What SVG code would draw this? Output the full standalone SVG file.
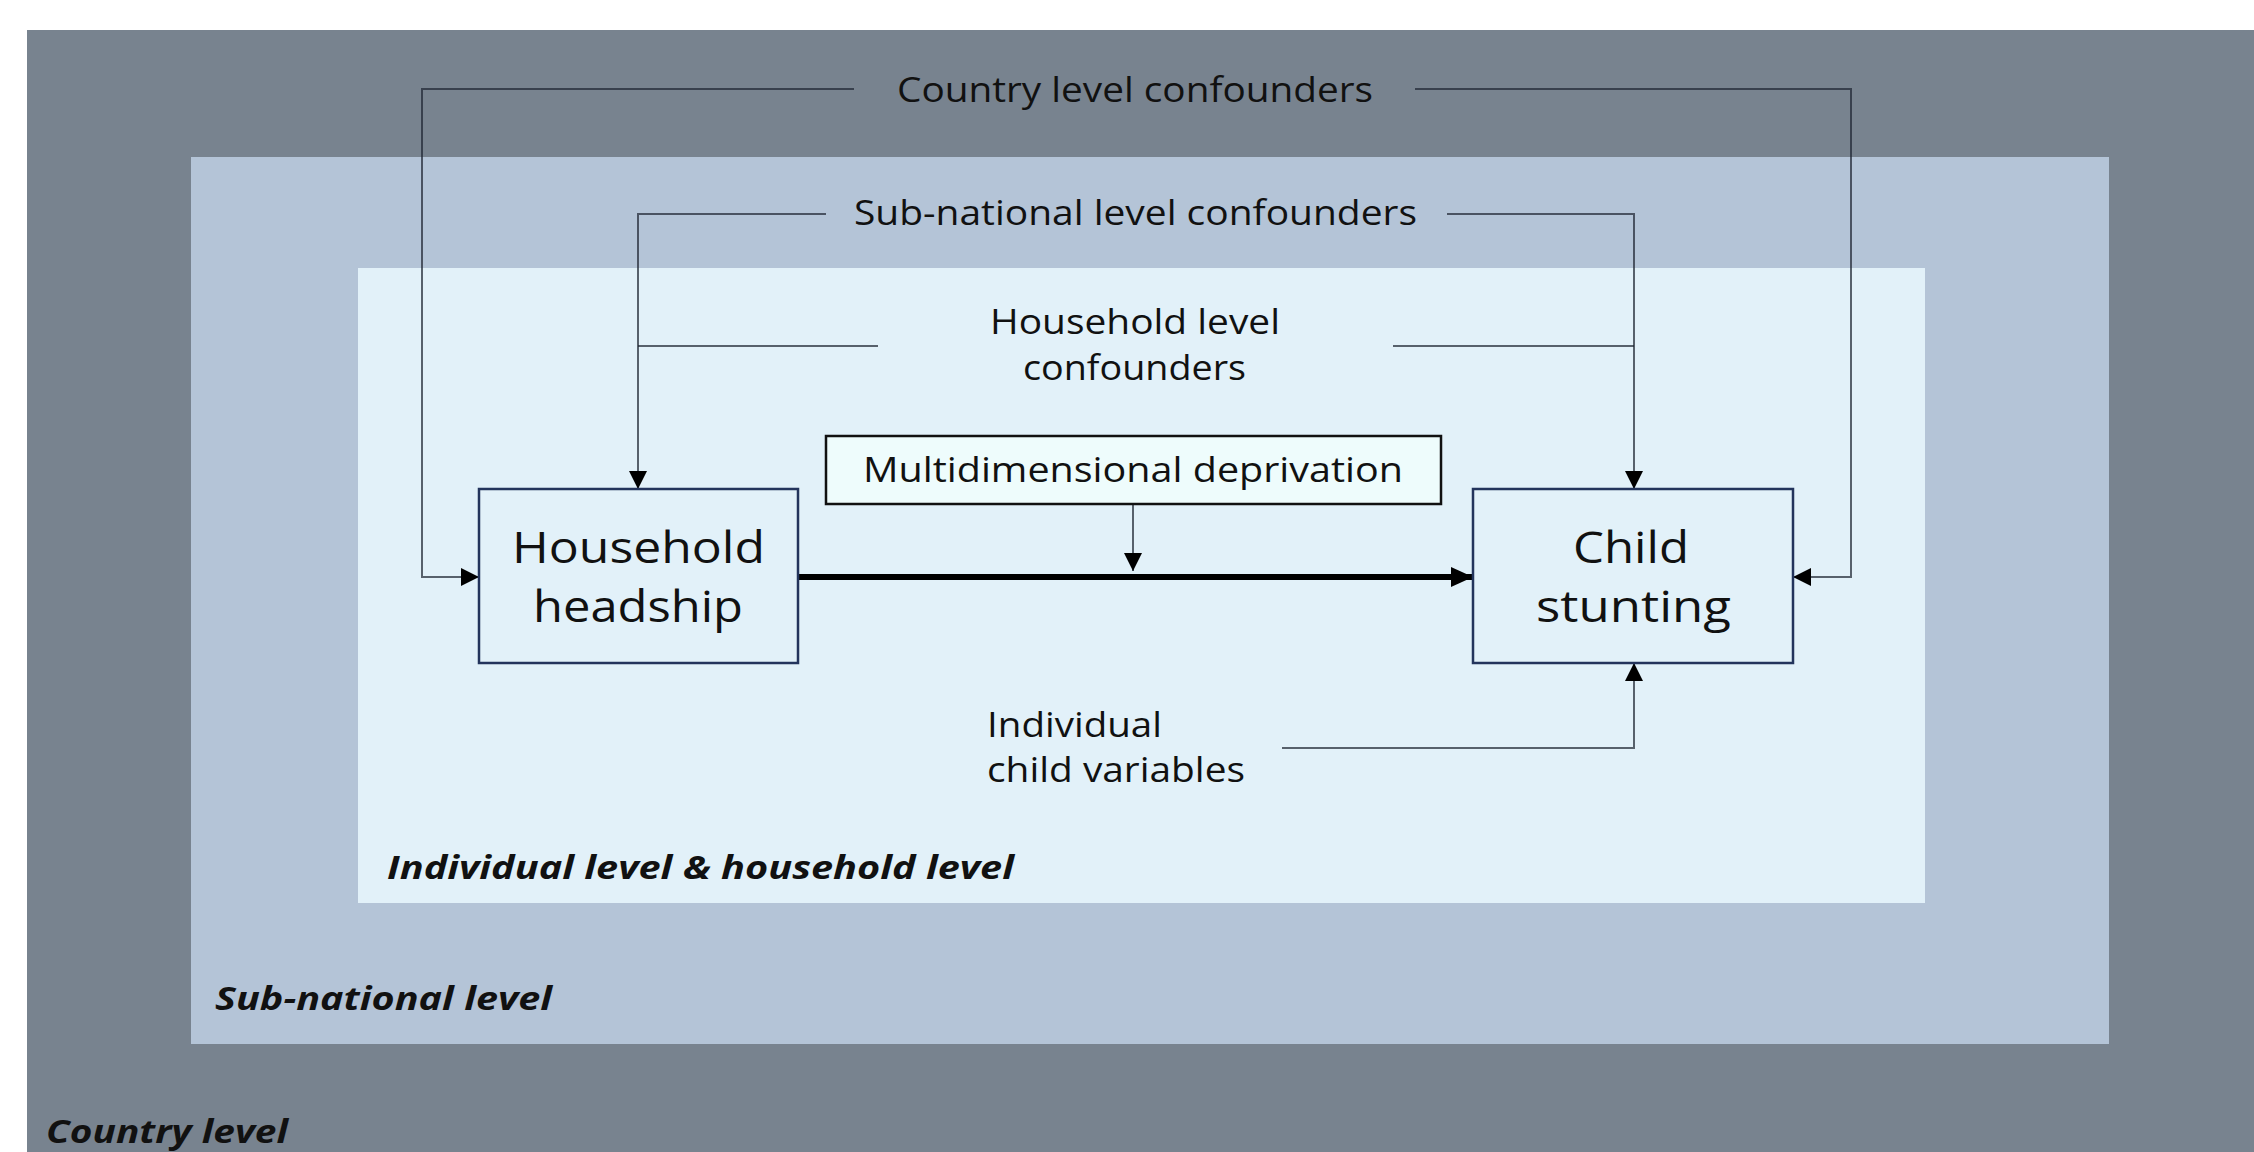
<svg xmlns="http://www.w3.org/2000/svg" width="2254" height="1152" viewBox="0 0 2254 1152">
<style>
.lbl{font-family:"Open Sans","Noto Sans","DejaVu Sans",sans-serif;fill:#111;}
.t34{font-size:34px;}
.t44{font-size:44px;}
.lvl{font-family:"Open Sans","Noto Sans","DejaVu Sans",sans-serif;font-size:33px;font-weight:bold;font-style:italic;fill:#111;}
.conn{fill:none;stroke:#1c2330;stroke-opacity:0.7;stroke-width:2;}
.node{fill:#e2f1f9;stroke:#23345c;stroke-width:2.5;}
</style>
<defs>
<marker id="ah" markerUnits="userSpaceOnUse" markerWidth="18" markerHeight="18" viewBox="0 0 18 18" refX="18" refY="9" orient="auto">
<path d="M0,0 L18,9 L0,18 Z" fill="#000"/>
</marker>
<marker id="ahb" markerUnits="userSpaceOnUse" markerWidth="22" markerHeight="22" viewBox="0 0 22 22" refX="22" refY="11" orient="auto">
<path d="M0,1 L22,11 L0,21 Z" fill="#000"/>
</marker>
</defs>
<rect x="0" y="0" width="2254" height="1152" fill="#ffffff"/>
<g id="country-level">
<rect x="27" y="30" width="2227" height="1122" fill="#78838f"/>
<text class="lvl" x="46" y="1143" textLength="242" lengthAdjust="spacingAndGlyphs">Country level</text>
</g>
<g id="subnational-level">
<rect x="191" y="157" width="1918" height="887" fill="#b4c4d7"/>
<text class="lvl" x="215" y="1010" textLength="337" lengthAdjust="spacingAndGlyphs">Sub-national level</text>
</g>
<g id="individual-level">
<rect x="358" y="268" width="1567" height="635" fill="#e2f1f9"/>
<text class="lvl" x="387" y="879" textLength="627" lengthAdjust="spacingAndGlyphs">Individual level &amp; household level</text>
</g>
<g id="connectors">
<path class="conn" d="M854,89 H422 V577 H479" marker-end="url(#ah)"/>
<path class="conn" d="M1415,89 H1851 V577 H1793" marker-end="url(#ah)"/>
<path class="conn" d="M826,214 H638 V489" marker-end="url(#ah)"/>
<path class="conn" d="M1447,214 H1634 V489" marker-end="url(#ah)"/>
<path class="conn" d="M878,346 H638"/>
<path class="conn" d="M1393,346 H1634"/>
<path class="conn" d="M1282,748 H1634 V663" marker-end="url(#ah)"/>
<path class="conn" d="M1133,504 V571" marker-end="url(#ah)"/>
<path d="M798,577 H1473" fill="none" stroke="#000" stroke-width="6" marker-end="url(#ahb)"/>
</g>
<g id="country-confounders">
<text class="lbl t34" x="897" y="102" textLength="476" lengthAdjust="spacingAndGlyphs">Country level confounders</text>
</g>
<g id="subnational-confounders">
<text class="lbl t34" x="854" y="225" textLength="563" lengthAdjust="spacingAndGlyphs">Sub-national level confounders</text>
</g>
<g id="household-confounders">
<text class="lbl t34" x="990" y="334" textLength="290" lengthAdjust="spacingAndGlyphs">Household level</text>
<text class="lbl t34" x="1023" y="380" textLength="223" lengthAdjust="spacingAndGlyphs">confounders</text>
</g>
<g id="individual-child-variables">
<text class="lbl t34" x="987" y="737" textLength="175" lengthAdjust="spacingAndGlyphs">Individual</text>
<text class="lbl t34" x="987" y="782" textLength="258" lengthAdjust="spacingAndGlyphs">child variables</text>
</g>
<g id="multidimensional-deprivation">
<rect x="826" y="436" width="615" height="68" fill="#eefcfc" stroke="#111" stroke-width="2.5"/>
<text class="lbl t34" x="863" y="482" textLength="540" lengthAdjust="spacingAndGlyphs">Multidimensional deprivation</text>
</g>
<g id="household-headship">
<rect class="node" x="479" y="489" width="319" height="174"/>
<text class="lbl t44" x="512" y="563" textLength="253" lengthAdjust="spacingAndGlyphs">Household</text>
<text class="lbl t44" x="533" y="622" textLength="210" lengthAdjust="spacingAndGlyphs">headship</text>
</g>
<g id="child-stunting">
<rect class="node" x="1473" y="489" width="320" height="174"/>
<text class="lbl t44" x="1573" y="563" textLength="116" lengthAdjust="spacingAndGlyphs">Child</text>
<text class="lbl t44" x="1536" y="622" textLength="195" lengthAdjust="spacingAndGlyphs">stunting</text>
</g>
</svg>
